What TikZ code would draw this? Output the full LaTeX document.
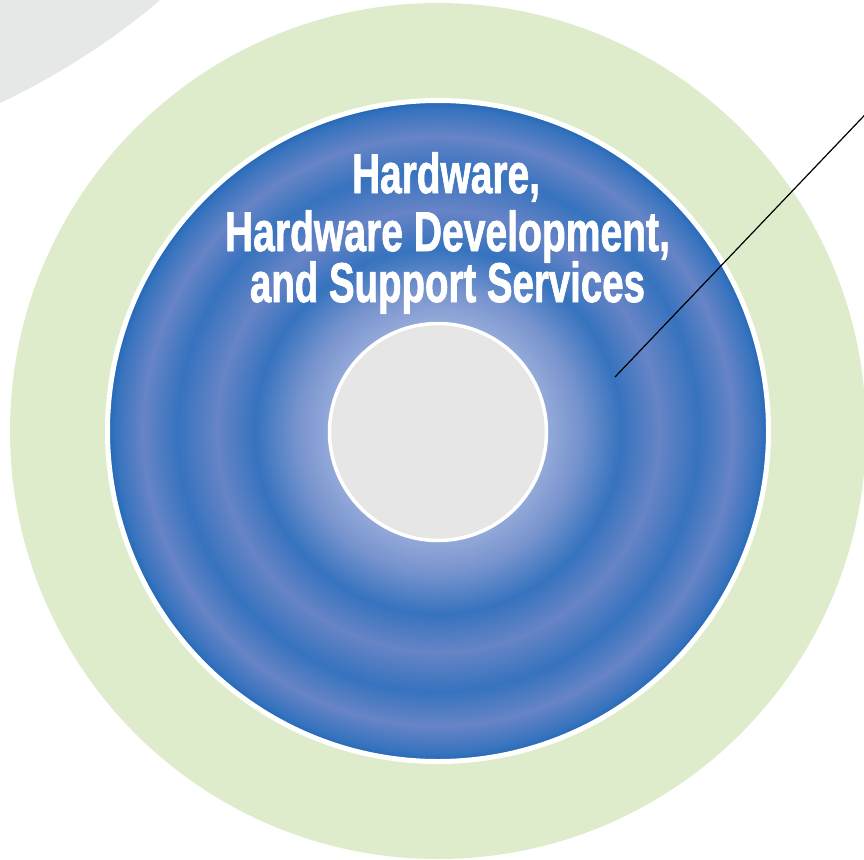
\documentclass[tikz,border=0pt]{standalone}
\usepackage{fontspec}
\setmainfont{Liberation Sans}
\newfontfamily\heavyfont[FakeBold=1.6]{Liberation Sans Bold}
\usepackage{graphicx}
\definecolor{bgGray}{RGB}{230,232,232}
\definecolor{ringGreen}{RGB}{222,236,204}
\definecolor{coreGray}{RGB}{230,230,230}
\definecolor{bLight}{RGB}{146,168,216}
\definecolor{bInner}{RGB}{120,148,206}
\definecolor{bMid}{RGB}{103,132,198}
\definecolor{bDark}{RGB}{54,115,190}
\definecolor{bEdge}{RGB}{38,104,183}
\pgfdeclareradialshading{discshade}{\pgfpoint{0bp}{0bp}}{%
  color(0bp)=(bLight); color(8.4bp)=(bLight); color(10.7bp)=(bInner);
  color(13.9bp)=(bDark); color(16.8bp)=(bMid); color(19.8bp)=(bDark);
  color(22.4bp)=(bMid); color(24.5bp)=(bDark); color(25bp)=(bEdge);
  color(50bp)=(bEdge)}
\tikzset{
  title/.style={text=white, inner sep=0pt, anchor=base,
    font=\fontsize{56pt}{60pt}\selectfont\heavyfont},
  leader/.style={draw=black, line width=1.2pt}
}
\begin{document}
\begin{tikzpicture}[x=1pt, y=-1pt]
  \useasboundingbox (0,0) rectangle (864,859);
  \clip (0,0) rectangle (864,859);
  % background gray sweep
  \fill[bgGray] (0,0) -- (0,103) .. controls (60,75) and (120,35) .. (160,0) -- cycle;
  % green ring
  \fill[ringGreen] (438,431) circle[radius=428];
  % blue disc with white border
  \shade[shading=discshade] (438,431) circle[radius=329];
  \draw[white, line width=5pt] (438,431) circle[radius=330.5];
  % inner gray core
  \filldraw[fill=coreGray, draw=white, line width=3.5pt] (438,432) circle[radius=108.5];
  % title
  \node[title] (l1) at (446,193) {\resizebox{188pt}{\height}{Hardware,}};
  \node[title] (l2) at (447.5,251) {\resizebox{445pt}{\height}{Hardware Development,}};
  \node[title] (l3) at (447.5,302) {\resizebox{395pt}{\height}{and Support Services}};
  % leader line
  \coordinate (lineA) at (615,377);
  \coordinate (lineB) at (880,99);
  \draw[leader] (lineA) -- (lineB);
\end{tikzpicture}
\end{document}
